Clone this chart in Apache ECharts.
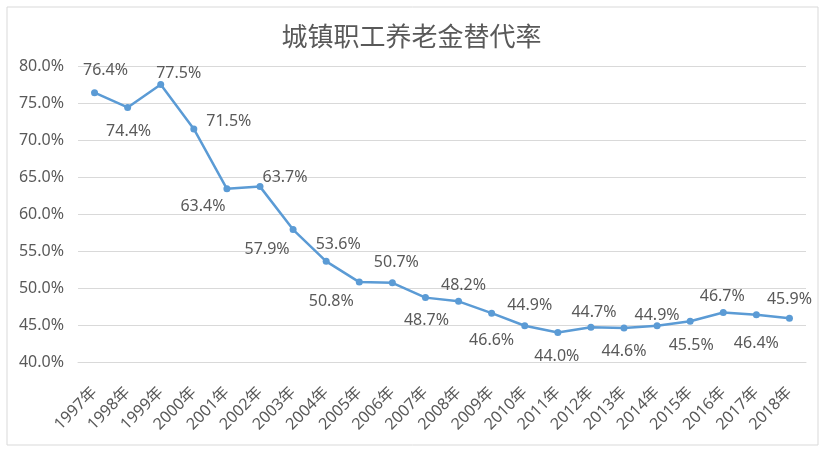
<!DOCTYPE html>
<html>
<head>
<meta charset="utf-8">
<script src="https://cdn.jsdelivr.net/npm/echarts@6/dist/echarts.min.js"></script>
<style>
  html, body { margin:0; padding:0; background:#fff; }
  #chart { width:823px; height:451px; }
</style>
</head>
<body>
<div id="chart"></div>
<script>
const years = ['1997年','1998年','1999年','2000年','2001年','2002年','2003年','2004年','2005年','2006年','2007年',
               '2008年','2009年','2010年','2011年','2012年','2013年','2014年','2015年','2016年','2017年','2018年'];
const rates = [76.4, 74.4, 77.5, 71.5, 63.4, 63.7, 57.9, 53.6, 50.8, 50.7, 48.7,
               48.2, 46.6, 44.9, 44.0, 44.7, 44.6, 44.9, 45.5, 46.7, 46.4, 45.9];
// label shift from the point, Excel-like placement
const labelShift = [[11,-22],[1,24],[18,-11],[35,-7],[-24,18],[25,-9],[-26,20],[12,-17],[-28,19],[4,-20],[1,23],
                    [5,-16],[0,27],[5,-20],[-1,24],[3,-15],[0,23],[0,-10],[1,24],[-1,-16],[0,29],[0,-19]];
const textColor = '#595959';
const lineColor = '#5b9bd5';

const myChart = echarts.init(document.getElementById('chart'));

let seriesData = rates.map((v, i) => {
    return {
        value: v,
        label: { offset: labelShift[i] }
    };
});

let option = {
    animation: false,
    textStyle: { fontFamily: '"Noto Sans", "Noto Sans CJK SC", sans-serif' },
    title: {
        text: '城镇职工养老金替代率',
        left: 'center',
        top: 18,
        textStyle: {
            fontFamily: '"Noto Sans CJK SC", serif',
            fontSize: 26,
            fontWeight: 'normal',
            color: textColor
        }
    },
    graphic: [{
        type: 'rect',
        shape: { x: 7, y: 7, width: 811, height: 438 },
        style: { fill: 'none', stroke: '#d9d9d9', lineWidth: 1 },
        silent: true
    }],
    grid: {
        left: 78,
        right: 17,
        top: 66,
        bottom: 89
    },
    xAxis: {
        type: 'category',
        data: years,
        boundaryGap: true,
        axisTick: { show: false },
        axisLine: { show: true, lineStyle: { color: '#d9d9d9' } },
        axisLabel: {
            rotate: 45,
            interval: 0,
            fontSize: 16,
            color: textColor,
            margin: 28
        }
    },
    yAxis: {
        type: 'value',
        min: 40,
        max: 80,
        interval: 5,
        axisLine: { show: false },
        axisTick: { show: false },
        axisLabel: {
            fontSize: 16,
            color: textColor,
            margin: 14,
            formatter: v => v.toFixed(1) + '%'
        },
        splitLine: { lineStyle: { color: '#d9d9d9', width: 1 } }
    },
    series: [{
        type: 'line',
        data: seriesData,
        symbol: 'circle',
        symbolSize: 7,
        itemStyle: { color: lineColor },
        lineStyle: { color: lineColor, width: 2.5 },
        label: {
            show: true,
            position: 'inside',
            fontSize: 16,
            color: textColor,
            formatter: p => p.value.toFixed(1) + '%'
        }
    }]
};
myChart.setOption(option);
</script>
</body>
</html>
